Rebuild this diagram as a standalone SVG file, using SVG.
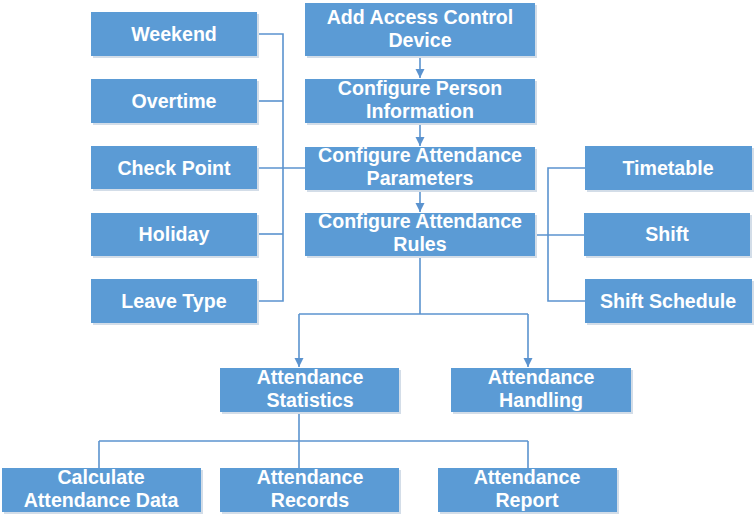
<svg xmlns="http://www.w3.org/2000/svg" width="756" height="516" viewBox="0 0 756 516">
<style>
.box{fill:#5b9bd5;}
.sh{fill:#d3dde8;}
.t{fill:#ffffff;font-family:"Liberation Sans","Arial",sans-serif;font-weight:bold;font-size:19.6px;text-anchor:middle;}
.ln{fill:none;stroke:#5b93cf;stroke-width:1.6;}
</style>
<defs>
<marker id="ah" markerWidth="10" markerHeight="10" refX="9" refY="5" orient="auto" markerUnits="userSpaceOnUse">
<path d="M0,0.5 L9,5 L0,9.5 Z" fill="#5b93cf"/>
</marker>
</defs>
<rect width="756" height="516" fill="#ffffff"/>
<g id="connectors">
<path class="ln" d="M257,34 H283 V301 H257"/>
<path class="ln" d="M257,101 H283"/>
<path class="ln" d="M257,168 H305"/>
<path class="ln" d="M257,234 H283"/>
<path class="ln" d="M585,168 H548 V301 H585"/>
<path class="ln" d="M535,235 H585"/>
<path class="ln" d="M420,56 V78" marker-end="url(#ah)"/>
<path class="ln" d="M420,123 V146" marker-end="url(#ah)"/>
<path class="ln" d="M420,190 V212" marker-end="url(#ah)"/>
<path class="ln" d="M420,256 V314"/>
<path class="ln" d="M299,314 H528"/>
<path class="ln" d="M299,314 V367" marker-end="url(#ah)"/>
<path class="ln" d="M528,314 V367" marker-end="url(#ah)"/>
<path class="ln" d="M299,412 V468"/>
<path class="ln" d="M99,441 H528"/>
<path class="ln" d="M99,441 V468"/>
<path class="ln" d="M528,441 V468"/>
</g>
<g id="weekend"><rect class="sh" x="93" y="14" width="166" height="44"/><rect class="box" x="91" y="12" width="166" height="44"/><text class="t" x="174" y="41">Weekend</text></g>
<g id="overtime"><rect class="sh" x="93" y="81" width="166" height="44"/><rect class="box" x="91" y="79" width="166" height="44"/><text class="t" x="174" y="108">Overtime</text></g>
<g id="checkpoint"><rect class="sh" x="93" y="148" width="166" height="43"/><rect class="box" x="91" y="146" width="166" height="43"/><text class="t" x="174" y="175">Check Point</text></g>
<g id="holiday"><rect class="sh" x="93" y="215" width="166" height="43"/><rect class="box" x="91" y="213" width="166" height="43"/><text class="t" x="174" y="241">Holiday</text></g>
<g id="leavetype"><rect class="sh" x="93" y="281" width="166" height="44"/><rect class="box" x="91" y="279" width="166" height="44"/><text class="t" x="174" y="308">Leave Type</text></g>
<g id="addaccess"><rect class="sh" x="307" y="5" width="230" height="53"/><rect class="box" x="305" y="3" width="230" height="53"/><text class="t" x="420" y="24">Add Access Control</text><text class="t" x="420" y="46.5">Device</text></g>
<g id="person"><rect class="sh" x="307" y="81" width="230" height="44"/><rect class="box" x="305" y="79" width="230" height="44"/><text class="t" x="420" y="95">Configure Person</text><text class="t" x="420" y="117.5">Information</text></g>
<g id="params"><rect class="sh" x="307" y="149" width="230" height="43"/><rect class="box" x="305" y="147" width="230" height="43"/><text class="t" x="420" y="162">Configure Attendance</text><text class="t" x="420" y="184.5">Parameters</text></g>
<g id="rules"><rect class="sh" x="307" y="215" width="230" height="43"/><rect class="box" x="305" y="213" width="230" height="43"/><text class="t" x="420" y="228">Configure Attendance</text><text class="t" x="420" y="250.5">Rules</text></g>
<g id="timetable"><rect class="sh" x="587" y="148" width="167" height="44"/><rect class="box" x="585" y="146" width="167" height="44"/><text class="t" x="668" y="175">Timetable</text></g>
<g id="shift"><rect class="sh" x="586" y="215" width="166" height="43"/><rect class="box" x="584" y="213" width="166" height="43"/><text class="t" x="667" y="241">Shift</text></g>
<g id="shiftschedule"><rect class="sh" x="587" y="281" width="167" height="44"/><rect class="box" x="585" y="279" width="167" height="44"/><text class="t" x="668" y="308">Shift Schedule</text></g>
<g id="statistics"><rect class="sh" x="222" y="370" width="179" height="44"/><rect class="box" x="220" y="368" width="179" height="44"/><text class="t" x="310" y="384">Attendance</text><text class="t" x="310" y="406.5">Statistics</text></g>
<g id="handling"><rect class="sh" x="453" y="370" width="180" height="44"/><rect class="box" x="451" y="368" width="180" height="44"/><text class="t" x="541" y="384">Attendance</text><text class="t" x="541" y="406.5">Handling</text></g>
<g id="calculate"><rect class="sh" x="4" y="470" width="199" height="44"/><rect class="box" x="2" y="468" width="199" height="44"/><text class="t" x="101" y="484">Calculate</text><text class="t" x="101" y="506.5">Attendance Data</text></g>
<g id="records"><rect class="sh" x="222" y="470" width="179" height="44"/><rect class="box" x="220" y="468" width="179" height="44"/><text class="t" x="310" y="484">Attendance</text><text class="t" x="310" y="506.5">Records</text></g>
<g id="report"><rect class="sh" x="440" y="470" width="179" height="44"/><rect class="box" x="438" y="468" width="179" height="44"/><text class="t" x="527" y="484">Attendance</text><text class="t" x="527" y="506.5">Report</text></g>
</svg>
